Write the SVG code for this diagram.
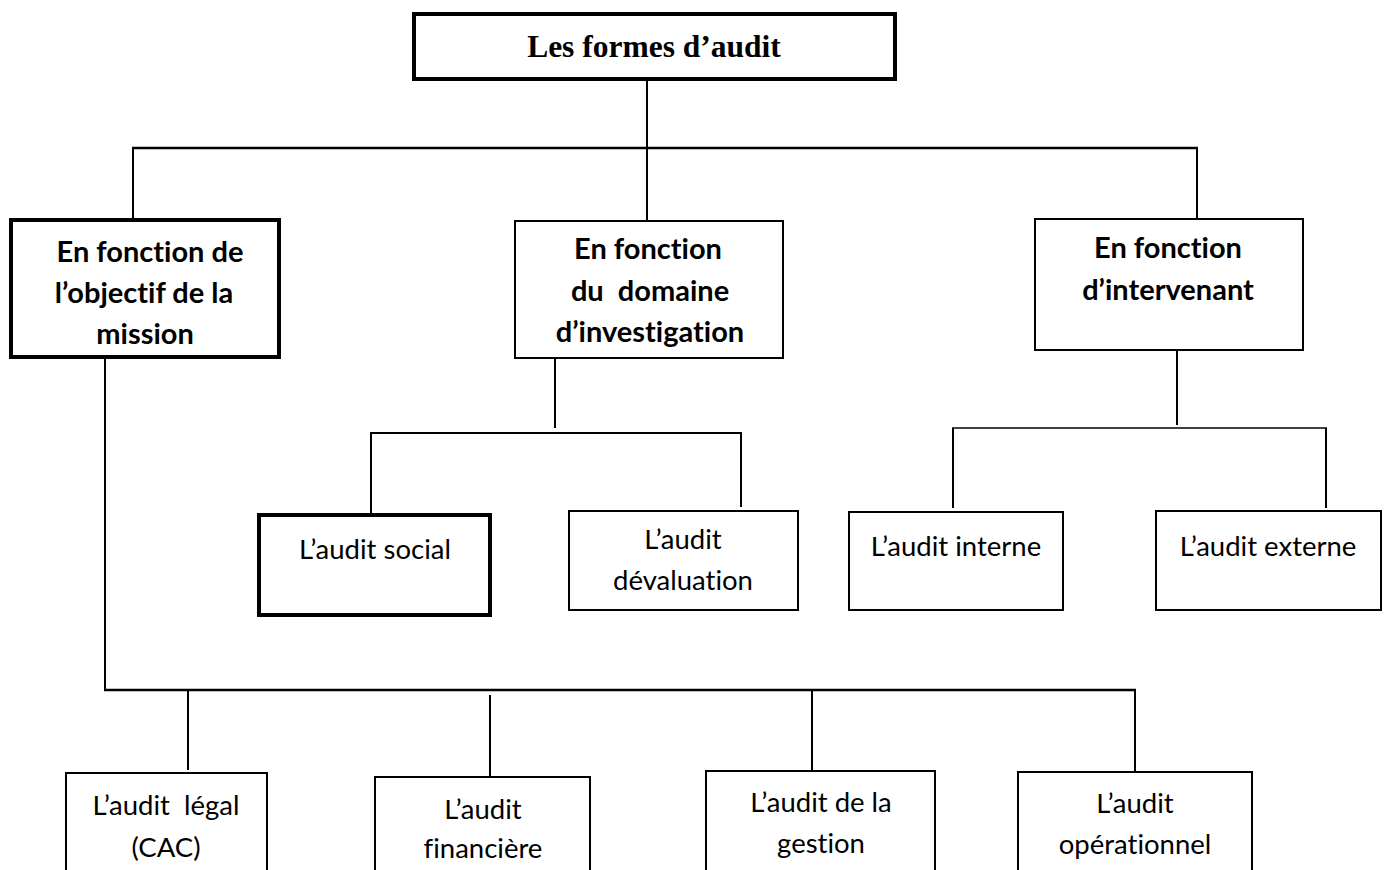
<svg xmlns="http://www.w3.org/2000/svg" width="1388" height="870" viewBox="0 0 1388 870">
<style>
.box{fill:#fff;stroke:#000;stroke-width:2}
.thick{fill:#fff;stroke:#000;stroke-width:4}
.ln{stroke:#000;stroke-width:2;fill:none}
.ln3{stroke:#000;stroke-width:2.5;fill:none}
.t{font-family:Lato,"Open Sans",sans-serif;font-size:27.5px;fill:#000;text-anchor:middle;font-variant-ligatures:none;white-space:pre}
.b{font-family:Lato,"Open Sans",sans-serif;font-size:29px;font-weight:bold;fill:#000;text-anchor:middle;font-variant-ligatures:none;white-space:pre}
.title{font-family:"Liberation Serif","Times New Roman",serif;font-size:31.5px;font-weight:bold;fill:#000;text-anchor:middle}
</style>
<rect width="1388" height="870" fill="#fff"/>
<g id="connectors">
<line class="ln" x1="647" y1="79" x2="647" y2="149"/>
<line class="ln3" x1="132" y1="148" x2="1198" y2="148"/>
<line class="ln" x1="133" y1="147" x2="133" y2="220"/>
<line class="ln" x1="647" y1="148" x2="647" y2="220"/>
<line class="ln" x1="1197" y1="148" x2="1197" y2="218"/>
<line class="ln" x1="555" y1="350" x2="555" y2="428"/>
<line class="ln" x1="370" y1="433" x2="742" y2="433"/>
<line class="ln" x1="371" y1="432" x2="371" y2="513"/>
<line class="ln" x1="741" y1="432" x2="741" y2="507"/>
<line class="ln" x1="1177" y1="345" x2="1177" y2="425"/>
<line class="ln" x1="952" y1="428" x2="1327" y2="428" style="stroke-width:1.5"/>
<line class="ln" x1="953" y1="428" x2="953" y2="508"/>
<line class="ln" x1="1326" y1="428" x2="1326" y2="508"/>
<line class="ln" x1="105" y1="357" x2="105" y2="691"/>
<line class="ln3" x1="104" y1="690" x2="1136" y2="690"/>
<line class="ln" x1="188" y1="690" x2="188" y2="770"/>
<line class="ln" x1="490" y1="695" x2="490" y2="776"/>
<line class="ln" x1="812" y1="689" x2="812" y2="771"/>
<line class="ln" x1="1135" y1="690" x2="1135" y2="772"/>
</g>
<g id="root">
<rect class="thick" x="414" y="14" width="481" height="65"/>
<text class="title" x="654" y="57">Les formes d’audit</text>
</g>
<g id="objectif">
<rect class="thick" x="11" y="220" width="268" height="137"/>
<text class="b" x="150" y="262">En fonction de</text>
<text class="b" x="144" y="303">l’objectif de la</text>
<text class="b" x="145" y="344">mission</text>
</g>
<g id="domaine">
<rect class="box" x="515" y="221" width="268" height="137"/>
<text class="b" x="648" y="259">En fonction</text>
<text class="b" x="650" y="301" xml:space="preserve">du  domaine</text>
<text class="b" x="650" y="342">d’investigation</text>
</g>
<g id="intervenant">
<rect class="box" x="1035" y="219" width="268" height="131"/>
<text class="b" x="1168" y="258">En fonction</text>
<text class="b" x="1168" y="300">d’intervenant</text>
</g>
<g id="social">
<rect class="thick" x="259" y="515" width="231" height="100"/>
<text class="t" x="375" y="559">L’audit social</text>
</g>
<g id="devaluation">
<rect class="box" x="569" y="511" width="229" height="99"/>
<text class="t" x="683" y="549">L’audit</text>
<text class="t" x="683" y="590">dévaluation</text>
</g>
<g id="interne">
<rect class="box" x="849" y="512" width="214" height="98"/>
<text class="t" x="956" y="556">L’audit interne</text>
</g>
<g id="externe">
<rect class="box" x="1156" y="511" width="225" height="99"/>
<text class="t" x="1268" y="556">L’audit externe</text>
</g>
<g id="legal">
<rect class="box" x="66" y="773" width="201" height="120"/>
<text class="t" x="166" y="815" xml:space="preserve">L’audit  légal</text>
<text class="t" x="166" y="857">(CAC)</text>
</g>
<g id="financiere">
<rect class="box" x="375" y="777" width="215" height="120"/>
<text class="t" x="483" y="819">L’audit</text>
<text class="t" x="483" y="858">financière</text>
</g>
<g id="gestion">
<rect class="box" x="706" y="771" width="229" height="120"/>
<text class="t" x="821" y="812">L’audit de la</text>
<text class="t" x="821" y="853">gestion</text>
</g>
<g id="operationnel">
<rect class="box" x="1018" y="772" width="234" height="120"/>
<text class="t" x="1135" y="813">L’audit</text>
<text class="t" x="1135" y="854">opérationnel</text>
</g>
</svg>
